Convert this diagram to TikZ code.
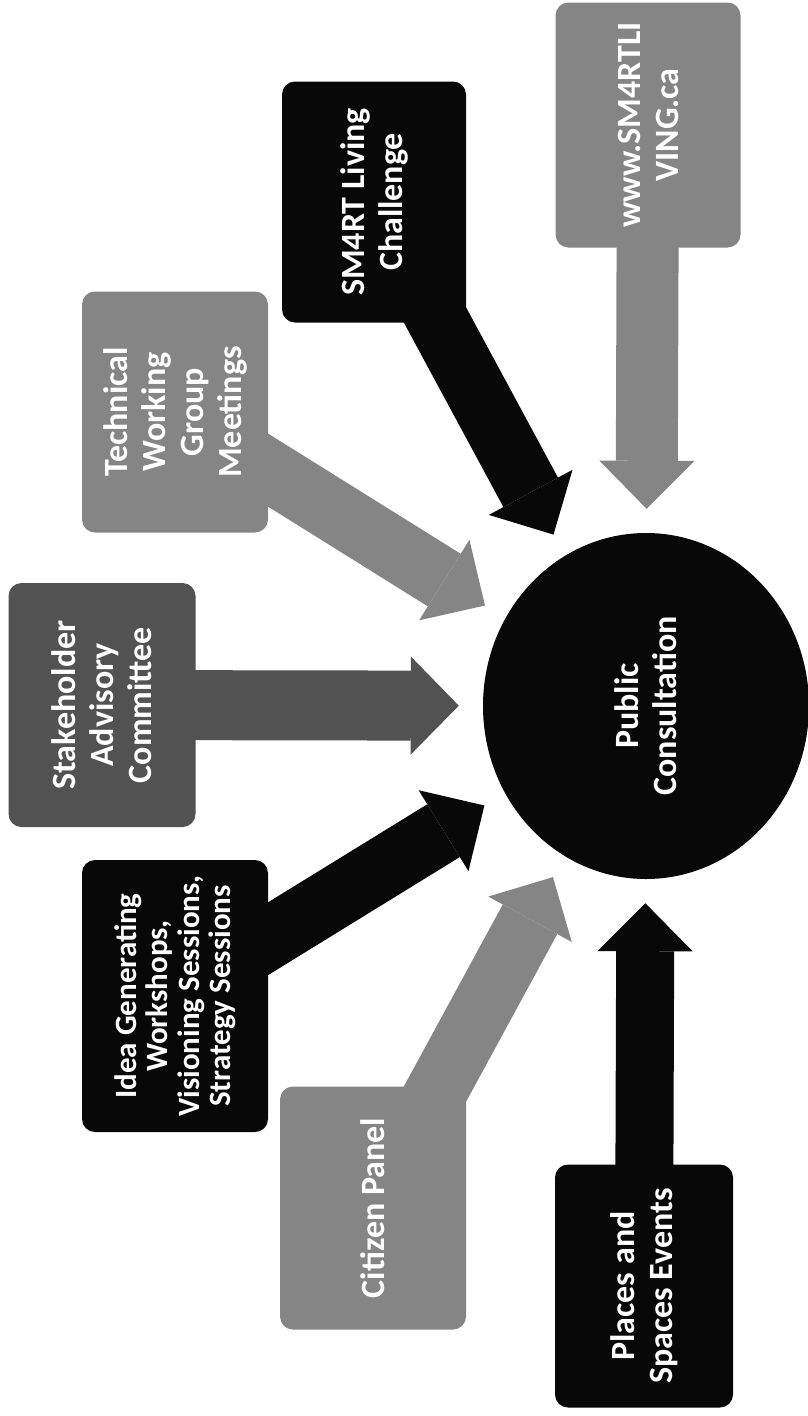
\documentclass[tikz,border=0pt]{standalone}
\usepackage{fontspec}
\setmainfont{Carlito}
\usetikzlibrary{arrows.meta}
\usetikzlibrary{shapes.geometric}
\usetikzlibrary{backgrounds}

\definecolor{boxgray}{gray}{0.52}
\definecolor{boxdark}{gray}{0.32}
\definecolor{boxblack}{gray}{0.03}

\tikzset{
  source/.style={rounded corners=13pt, rotate=90, inner sep=0pt, align=center,
    text=white, minimum width=243pt, minimum height=186pt,
    font=\fontsize{34}{38}\selectfont\bfseries},
  feed/.style={line width=62pt, line cap=butt,
    -{Triangle[length=48pt,width=95pt,line width=0pt]}, shorten >=24pt}
}

\begin{document}
\begin{tikzpicture}[x=1pt,y=-1pt]
		\useasboundingbox (0,0) rectangle (807,1416);
		% centre
		\node[ellipse, fill=boxblack, rotate=90, minimum width=346pt, minimum height=326pt, inner sep=0pt,
		      align=center, text=white, font=\fontsize{34}{38}\selectfont\bfseries] (pc) at (646,706) {Public\\Consultation};
		% sources, clockwise from the top right
		\node[source, fill=boxgray, minimum width=245pt, minimum height=185pt] (web) at (648,125) {www.SM4RTLI\\VING.ca};
		\node[source, fill=boxblack, minimum width=241pt, minimum height=184pt] (challenge) at (374,202) {SM4RT Living\\Challenge};
		\node[source, fill=boxgray, minimum width=241pt] (twg) at (175,412) {Technical\\Working\\Group\\Meetings};
		\node[source, fill=boxdark, minimum width=244pt, minimum height=187pt] (sac) at (102,705) {Stakeholder\\Advisory\\Committee};
		\node[source, fill=boxblack, minimum width=272pt, font=\fontsize{31}{31.5}\selectfont\bfseries] (ideas) at (175,996) {Idea Generating\\Workshops,\\Visioning Sessions,\\Strategy Sessions};
		\node[source, fill=boxgray] (panel) at (373,1208) {Citizen Panel};
		\node[source, fill=boxblack, minimum height=178pt] (events) at (644,1286) {Places and\\Spaces Events};
		% block arrows
		\begin{pgfonlayer}{background}
		\draw[feed, boxgray] (web.center) -- (pc);
		\draw[feed, boxblack] (challenge.center) -- (pc);
		\draw[feed, boxgray] (twg.center) -- (pc);
		\draw[feed, boxdark, line width=70pt, -{Triangle[length=48pt,width=98pt,line width=0pt]}] (sac.center) -- (pc);
		\draw[feed, boxblack] (ideas.center) -- (pc);
		\draw[feed, boxgray] (panel.center) -- (pc);
		\draw[feed, boxblack, line width=58pt] (events.center) -- (pc);
		\end{pgfonlayer}
\end{tikzpicture}
\end{document}
